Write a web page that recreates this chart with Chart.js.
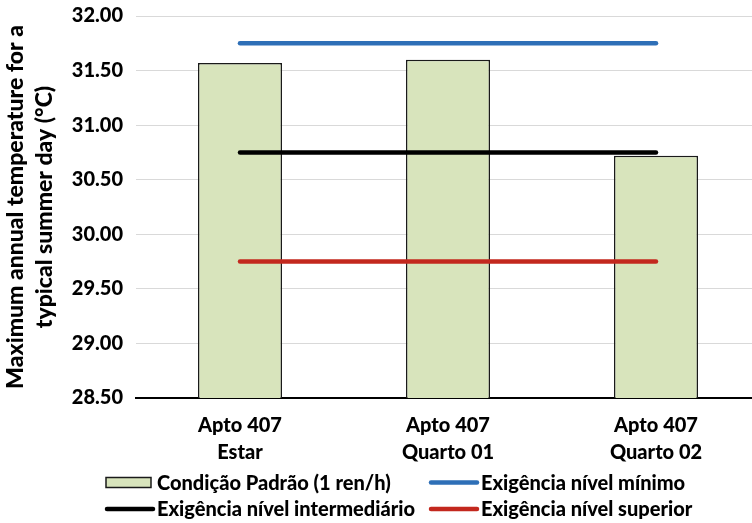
<!DOCTYPE html>
<html>
<head>
<meta charset="utf-8">
<script src="https://cdn.jsdelivr.net/npm/chart.js@4.4.1/dist/chart.umd.min.js"></script>
<style>
  html, body { margin: 0; padding: 0; background: #ffffff; overflow: hidden; }
  #wrap { position: relative; width: 760px; height: 523px; }
</style>
</head>
<body>
<div id="wrap"><canvas id="chart"></canvas></div>
<script>
// Rooms evaluated
const categories = [
  ['Apto 407', 'Estar'],
  ['Apto 407', 'Quarto 01'],
  ['Apto 407', 'Quarto 02']
];

// Maximum annual temperature on a typical summer day (°C)
const standardCondition = [31.57, 31.60, 30.72];

// Performance requirement levels (°C)
const minimumLevel = [31.75, 31.75, 31.75];
const intermediateLevel = [30.75, 30.75, 30.75];
const superiorLevel = [29.75, 29.75, 29.75];

// Y axis range and step
const yMin = 28.5;
const yMax = 32.0;
const yStep = 0.5;

const FONT = 'Lato, "Open Sans", "DejaVu Sans", sans-serif';
const WEIGHT = '900';
const TEXT = '#000000';

const BAR_FILL = '#d8e4bc';
const BLUE = '#2e6fb7';
const BLACK = '#000000';
const RED = '#c3281e';

// Two-column legend drawn underneath the axis labels
const gridLegend = {
  id: 'gridLegend',
  afterDraw(chart) {
    const ctx = chart.ctx;
    const ds = chart.data.datasets;
    const byKey = k => ds.find(d => d.key === k);
    const items = [
      { d: byKey('bar'), col: 0, row: 0 },
      { d: byKey('min'), col: 1, row: 0 },
      { d: byKey('int'), col: 0, row: 1 },
      { d: byKey('sup'), col: 1, row: 1 }
    ];
    const colX = [105, 429];
    const rowY = [482.5, 509];
    ctx.save();
    ctx.font = WEIGHT + ' 20px ' + FONT;
    ctx.textBaseline = 'middle';
    items.forEach(it => {
      const x = colX[it.col];
      const y = rowY[it.row];
      if (it.d.type === 'bar') {
        ctx.fillStyle = it.d.backgroundColor;
        ctx.fillRect(x + 1, y - 5, 45, 10);
        ctx.lineWidth = 1.5;
        ctx.strokeStyle = it.d.borderColor;
        ctx.strokeRect(x + 1, y - 5, 45, 10);
      } else {
        ctx.beginPath();
        ctx.lineCap = 'round';
        ctx.lineWidth = 4.5;
        ctx.strokeStyle = it.d.borderColor;
        ctx.moveTo(x + 2, y);
        ctx.lineTo(x + 48, y);
        ctx.stroke();
      }
      ctx.fillStyle = TEXT;
      ctx.fillText(it.d.label, x + 52, y + 1);
    });
    ctx.restore();
  }
};

const lineStyle = {
  type: 'line',
  borderWidth: 4.5,
  borderCapStyle: 'round',
  pointRadius: 0,
  pointHoverRadius: 0,
  fill: false,
  tension: 0
};

new Chart(document.getElementById('chart'), {
  data: {
    labels: categories,
    datasets: [
      Object.assign({}, lineStyle, {
        key: 'min', label: 'Exigência nível mínimo',
        data: minimumLevel, borderColor: BLUE, backgroundColor: BLUE, order: 1
      }),
      Object.assign({}, lineStyle, {
        key: 'int', label: 'Exigência nível intermediário',
        data: intermediateLevel, borderColor: BLACK, backgroundColor: BLACK, order: 2
      }),
      Object.assign({}, lineStyle, {
        key: 'sup', label: 'Exigência nível superior',
        data: superiorLevel, borderColor: RED, backgroundColor: RED, order: 3
      }),
      {
        key: 'bar', type: 'bar', label: 'Condição Padrão (1 ren/h)',
        data: standardCondition,
        backgroundColor: BAR_FILL,
        borderColor: '#1a1a1a',
        borderWidth: 1.5,
        borderSkipped: false,
        categoryPercentage: 1.0,
        barPercentage: 0.404,
        order: 4
      }
    ]
  },
  options: {
    responsive: true,
    maintainAspectRatio: false,
    animation: false,
    layout: { padding: { left: 0, right: 0, top: 16, bottom: 0 } },
    plugins: {
      legend: { display: false },
      tooltip: { enabled: false },
      title: { display: false }
    },
    scales: {
      x: {
        grid: { display: false, drawTicks: false },
        border: { display: true, color: '#000000', width: 2 },
        ticks: {
          color: TEXT,
          font: { family: FONT, size: 20, weight: WEIGHT, lineHeight: 1.35 },
          padding: 14,
          maxRotation: 0,
          autoSkip: false
        },
        afterFit(scale) { scale.height = 125; }
      },
      y: {
        min: yMin,
        max: yMax,
        grid: { color: '#d9d9d9', lineWidth: 1, drawTicks: false },
        border: { display: false },
        ticks: {
          stepSize: yStep,
          color: TEXT,
          font: { family: FONT, size: 20, weight: WEIGHT },
          padding: 13,
          callback: v => Number(v).toFixed(2)
        },
        title: {
          display: true,
          text: ['Maximum annual temperature for a', 'typical summer day (°C)'],
          color: TEXT,
          font: { family: FONT, size: 23, weight: WEIGHT, lineHeight: 1.25 },
          padding: { top: 1, bottom: 0 }
        },
        afterFit(scale) {
          scale.width = 136;
          scale.paddingTop = 0;
          scale.paddingBottom = 0;
        }
      }
    }
  },
  plugins: [gridLegend]
});
</script>
</body>
</html>
